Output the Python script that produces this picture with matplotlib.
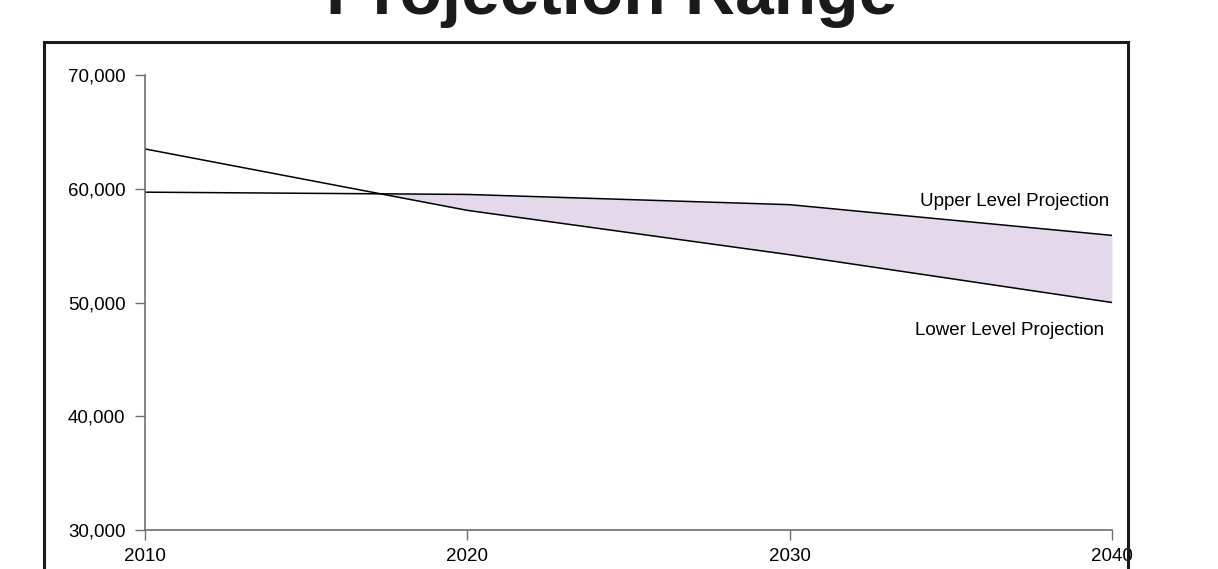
import matplotlib
matplotlib.use("Agg")
import matplotlib.pyplot as plt
import matplotlib.patches as mpatches
from matplotlib.ticker import FuncFormatter
import numpy as np

plt.rcParams['font.family'] = ['Liberation Sans', 'DejaVu Sans']

years = [2010, 2020, 2030, 2040]
upper_level = [59700, 59500, 58600, 55900]
lower_level = [63500, 58100, 54200, 50000]
y_ticks = [30000, 40000, 50000, 60000, 70000]
title = "Projection Range"

W, H = 1218, 569
fig = plt.figure(figsize=(W / 100, H / 100), dpi=100)
fig.patch.set_facecolor('white')

# Slide-style frame around the chart
frame = mpatches.Rectangle((44 / W, -0.05), (1128 - 44) / W, 1.05 - 42 / H,
                           transform=fig.transFigure, fill=False,
                           edgecolor='#1a1a1a', linewidth=2.2, clip_on=False)
fig.patches.append(frame)

fig.text(612 / W, 1 - 14 / H, title, ha='center', va='baseline',
         fontsize=50, fontweight='bold', color='#1a1a1a')

ax = fig.add_axes([145 / W, 1 - 530 / H, (1112 - 145) / W, (530 - 75) / H])

x = np.array(years, dtype=float)
up = np.array(upper_level, dtype=float)
lo = np.array(lower_level, dtype=float)

# Shade the band where the upper projection sits above the lower one
xf = np.linspace(x[0], x[-1], 600)
upf = np.interp(xf, x, up)
lof = np.interp(xf, x, lo)
ax.fill_between(xf, lof, upf, where=upf >= lof, interpolate=True,
                color='#e3d9eb', linewidth=0)

ax.plot(x, up, color='black', linewidth=1.1)
ax.plot(x, lo, color='black', linewidth=1.1)

ax.text(2039.9, 58900, "Upper Level Projection", ha='right', va='center', fontsize=13.5)
ax.text(2039.75, 47550, "Lower Level Projection", ha='right', va='center', fontsize=13.5)

ax.set_xlim(2010, 2040)
ax.set_ylim(30000, 70000)
ax.set_xticks(years)
ax.set_yticks(y_ticks)
ax.yaxis.set_major_formatter(FuncFormatter(lambda v, p: f"{int(v):,}"))

for s in ['top', 'right']:
    ax.spines[s].set_visible(False)
for s in ['left', 'bottom']:
    ax.spines[s].set_color('#6e6e6e')
    ax.spines[s].set_linewidth(1.2)

ax.tick_params(axis='both', direction='out', length=7, width=1.0,
               color='#6e6e6e', labelsize=13.5, labelcolor='black')
ax.tick_params(axis='y', pad=7)
ax.tick_params(axis='x', pad=6)

fig.savefig("out.png", dpi=100, facecolor='white')
